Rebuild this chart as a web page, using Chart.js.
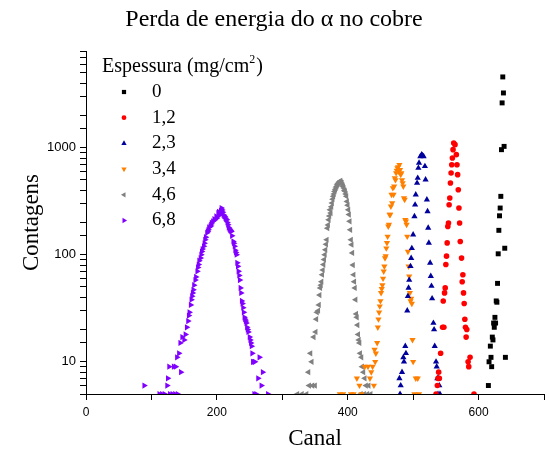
<!DOCTYPE html>
<html>
<head>
<meta charset="utf-8">
<script src="https://cdn.jsdelivr.net/npm/chart.js@4.4.0/dist/chart.umd.min.js"></script>
<style>
  body { margin: 0; background: #fff; }
  #caixa { width: 549px; height: 452px; }
</style>
</head>
<body>
<div id="caixa"><canvas id="grafico" width="549" height="452"></canvas></div>
<script>
// espessuras do absorvedor (mg/cm2)
var espessuras = ['0', '1,2', '2,3', '3,4', '4,6', '6,8'];

// cada ponto: [canal, contagens]
var serie0 = [[615, 6], [616, 10], [618, 14], [619, 11], [620, 9], [621, 17], [622, 16], [623, 23], [624, 21], [625, 26], [626, 23], [627, 37], [628, 36], [629, 54], [630, 102], [631, 169], [632, 231], [633, 273], [634, 351], [635, 958], [636, 2620], [637, 4580], [638, 3245], [639, 1028], [640, 115], [641, 11]];

var serie12 = [[535, 5], [537, 6], [538, 7], [539, 8], [540, 7], [542, 12], [545, 21], [546, 37], [547, 21], [548, 44], [549, 49], [550, 81], [551, 97], [552, 129], [553, 184], [554, 198], [555, 293], [556, 339], [557, 468], [558, 580], [559, 693], [560, 800], [561, 958], [562, 1107], [564, 1067], [566, 861], [567, 693], [568, 560], [569, 405], [570, 273], [571, 198], [572, 133], [574, 93], [575, 56], [576, 65], [577, 44], [578, 35], [579, 25], [580, 21], [581, 17], [582, 20], [584, 10], [585, 9], [587, 11], [593, 5]];

var serie23 = [[479, 7], [480, 5], [481, 6], [483, 8], [485, 11], [486, 10], [488, 14], [489, 12], [491, 30], [492, 41], [493, 49], [494, 58], [496, 78], [497, 93], [498, 115], [500, 154], [502, 228], [503, 293], [504, 364], [506, 468], [507, 521], [508, 646], [509, 720], [511, 830], [513, 861], [514, 850], [516, 830], [518, 670], [519, 503], [521, 327], [522, 254], [523, 178], [524, 129], [526, 84], [527, 63], [528, 51], [529, 39], [531, 23], [532, 20], [533, 14], [535, 10], [536, 9], [537, 7], [538, 5], [539, 7], [540, 6], [541, 5]];

var serie34 = [[388, 5], [393, 5], [405, 5], [409, 5], [414, 7], [418, 6], [421, 5], [426, 9], [431, 9], [434, 7], [436, 8], [438, 9], [440, 6], [441, 13], [442, 10], [443, 12], [445, 15], [446, 21], [447, 25], [448, 29], [449, 33], [450, 37], [451, 44], [452, 48], [453, 52], [454, 60], [455, 70], [456, 78], [457, 93], [458, 97], [459, 115], [460, 129], [461, 148], [462, 184], [463, 191], [464, 237], [465, 237], [466, 283], [467, 364], [468, 304], [469, 420], [470, 364], [471, 435], [472, 521], [473, 499], [474, 580], [475, 610], [476, 646], [477, 660], [478, 601], [479, 693], [480, 622], [481, 560], [482, 580], [483, 499], [484, 468], [485, 435], [486, 339], [487, 327], [488, 212], [489, 205], [490, 191], [491, 148], [492, 107], [493, 78], [494, 63], [495, 44], [496, 37], [497, 39], [498, 35], [499, 16], [500, 10], [502, 5], [504, 7], [507, 7], [509, 5]];

var serie46 = [[323, 5], [330, 5], [337, 5], [340, 8], [341, 6], [343, 12], [345, 10], [346, 6], [348, 17], [350, 6], [351, 19], [352, 25], [353, 29], [355, 30], [356, 34], [357, 42], [358, 49], [359, 52], [360, 56], [361, 65], [362, 72], [363, 81], [364, 90], [365, 100], [366, 111], [367, 125], [368, 138], [369, 177], [370, 190], [371, 212], [372, 230], [373, 263], [374, 245], [375, 280], [376, 304], [377, 330], [378, 351], [379, 370], [380, 390], [381, 405], [382, 420], [383, 435], [384, 450], [385, 460], [386, 468], [387, 478], [388, 484], [389, 490], [390, 475], [391, 468], [392, 450], [393, 435], [394, 420], [395, 400], [396, 391], [397, 370], [398, 351], [399, 315], [400, 290], [401, 263], [402, 237], [403, 205], [404, 171], [405, 138], [406, 124], [407, 104], [408, 80], [409, 65], [410, 56], [411, 49], [412, 38], [413, 28], [414, 26], [415, 22], [416, 18], [417, 16], [418, 15], [419, 12], [420, 5], [421, 11], [422, 9], [424, 8], [425, 5], [426, 7], [428, 6], [430, 5], [432, 6], [435, 5]];

var serie68 = [[89, 6], [112, 5], [116, 5], [120, 5], [124, 6], [125, 7], [127, 9], [128, 5], [132, 5], [134, 9], [136, 5], [137, 9], [139, 11], [140, 5], [142, 12], [144, 15], [145, 8], [147, 17], [150, 16], [152, 18], [154, 21], [156, 24], [157, 27], [158, 29], [160, 34], [161, 38], [162, 41], [163, 44], [164, 47], [165, 52], [167, 58], [168, 62], [170, 70], [171, 76], [172, 81], [173, 88], [175, 93], [176, 100], [177, 107], [178, 113], [180, 120], [181, 128], [182, 138], [183, 146], [185, 160], [186, 165], [187, 171], [188, 180], [190, 184], [191, 190], [192, 198], [194, 205], [196, 215], [197, 212], [199, 228], [200, 220], [202, 245], [203, 252], [204, 240], [205, 236], [206, 258], [207, 273], [208, 262], [209, 250], [210, 236], [211, 230], [212, 228], [213, 220], [214, 215], [215, 212], [216, 200], [217, 191], [218, 180], [219, 175], [220, 171], [221, 168], [222, 165], [223, 150], [225, 133], [226, 128], [227, 120], [228, 110], [229, 105], [230, 100], [231, 84], [232, 78], [233, 70], [234, 64], [235, 58], [236, 49], [237, 44], [238, 37], [239, 35], [240, 32], [241, 29], [242, 26], [243, 25], [244, 24], [245, 23], [246, 21], [247, 20], [248, 19], [250, 17], [251, 16], [252, 15], [253, 14], [254, 12], [255, 10], [256, 10], [257, 5], [258, 10], [260, 5], [263, 7], [265, 11], [268, 6], [270, 8], [278, 5]];

var dados = [serie0, serie12, serie23, serie34, serie46, serie68];

var cores = ['#000000', '#ff0000', '#00009c', '#ff8000', '#808080', '#8000ff'];
var estilos = ['rect', 'circle', 'triangle', 'triangle', 'triangle', 'triangle'];
var rotacoes = [0, 0, 0, 180, 270, 90];
var raios = [3.5, 2.8, 3.6, 3.6, 3.6, 3.6];

var series = [];
for (var i = 0; i < espessuras.length; i++) {
    series.push({
        label: espessuras[i],
        data: dados[i].map(function (p) { return {x: p[0], y: p[1]}; }),
        pointStyle: estilos[i],
        pointRotation: rotacoes[i],
        pointRadius: raios[i],
        pointHoverRadius: raios[i],
        pointBackgroundColor: cores[i],
        pointBorderWidth: 0,
        backgroundColor: cores[i],
        borderColor: cores[i],
        showLine: false,
        clip: 0
    });
}

var serifa = '"Liberation Serif", "Times New Roman", serif';
var semSerifa = '"Liberation Sans", Arial, sans-serif';

// legenda dentro da area do grafico, com titulo
var legendaDentro = {
    id: 'legendaDentro',
    afterDatasetsDraw: function (chart) {
        var ctx = chart.ctx;
        ctx.save();
        ctx.fillStyle = '#000';
        ctx.textBaseline = 'middle';
        ctx.textAlign = 'left';
        ctx.font = '20px ' + serifa;
        var t = 'Espessura (mg/cm';
        ctx.fillText(t, 102, 67);
        var w = ctx.measureText(t).width;
        ctx.font = '12px ' + serifa;
        ctx.fillText('2', 102 + w, 60);
        var w2 = ctx.measureText('2').width;
        ctx.font = '20px ' + serifa;
        ctx.fillText(')', 102 + w + w2 + 1, 67);

        chart.data.datasets.forEach(function (ds, k) {
            var y = 92 + k * 25.7;
            ctx.fillStyle = ds.pointBackgroundColor;
            Chart.helpers.drawPoint(ctx, {
                pointStyle: ds.pointStyle,
                rotation: ds.pointRotation,
                radius: ds.pointRadius * 0.85,
                borderWidth: 0
            }, 124, y);
            ctx.fillStyle = '#000';
            ctx.font = '19px ' + serifa;
            ctx.fillText(ds.label, 152, y);
        });
        ctx.restore();
    }
};

var grafico = document.getElementById('grafico').getContext('2d');
var chart = new Chart(grafico, {
    type: 'scatter',
    data: {datasets: series},
    plugins: [legendaDentro],
    options: {
        responsive: false,
        animation: false,
        layout: {padding: {left: 0, right: 1, top: 0, bottom: 0}},
        plugins: {
            legend: {display: false},
            tooltip: {enabled: false},
            title: {
                display: true,
                text: 'Perda de energia do α no cobre',
                color: '#000',
                font: {family: serifa, size: 24, weight: 'normal'},
                padding: {top: 5.6, bottom: 16.6}
            }
        },
        scales: {
            x: {
                type: 'linear',
                min: 0,
                max: 700,
                afterFit: function (s) { s.height = 58; },
                border: {display: true, color: '#000', width: 1},
                grid: {display: true, drawOnChartArea: false, drawTicks: true, tickLength: 6, color: '#000'},
                ticks: {
                    stepSize: 100,
                    autoSkip: false,
                    maxRotation: 0,
                    padding: 5,
                    color: '#000',
                    font: {family: semSerifa, size: 12},
                    callback: function (v) { return v % 200 === 0 ? v : ''; }
                },
                title: {
                    display: true,
                    text: 'Canal',
                    color: '#000',
                    font: {family: serifa, size: 23},
                    padding: {top: 0, bottom: -1}
                }
            },
            y: {
                type: 'logarithmic',
                min: 5,
                max: 8000,
                afterFit: function (s) { s.width = 86; },
                border: {display: true, color: '#000', width: 1},
                grid: {display: true, drawOnChartArea: false, drawTicks: true, tickLength: 6, color: '#000'},
                ticks: {
                    autoSkip: false,
                    padding: 4,
                    color: '#000',
                    font: {family: semSerifa, size: 13},
                    callback: function (v) { return (v === 10 || v === 100 || v === 1000) ? v : ''; }
                },
                title: {
                    display: true,
                    text: 'Contagens',
                    color: '#000',
                    font: {family: serifa, size: 23},
                    padding: {top: 18, bottom: 0}
                }
            }
        }
    }
});
</script>
</body>
</html>
